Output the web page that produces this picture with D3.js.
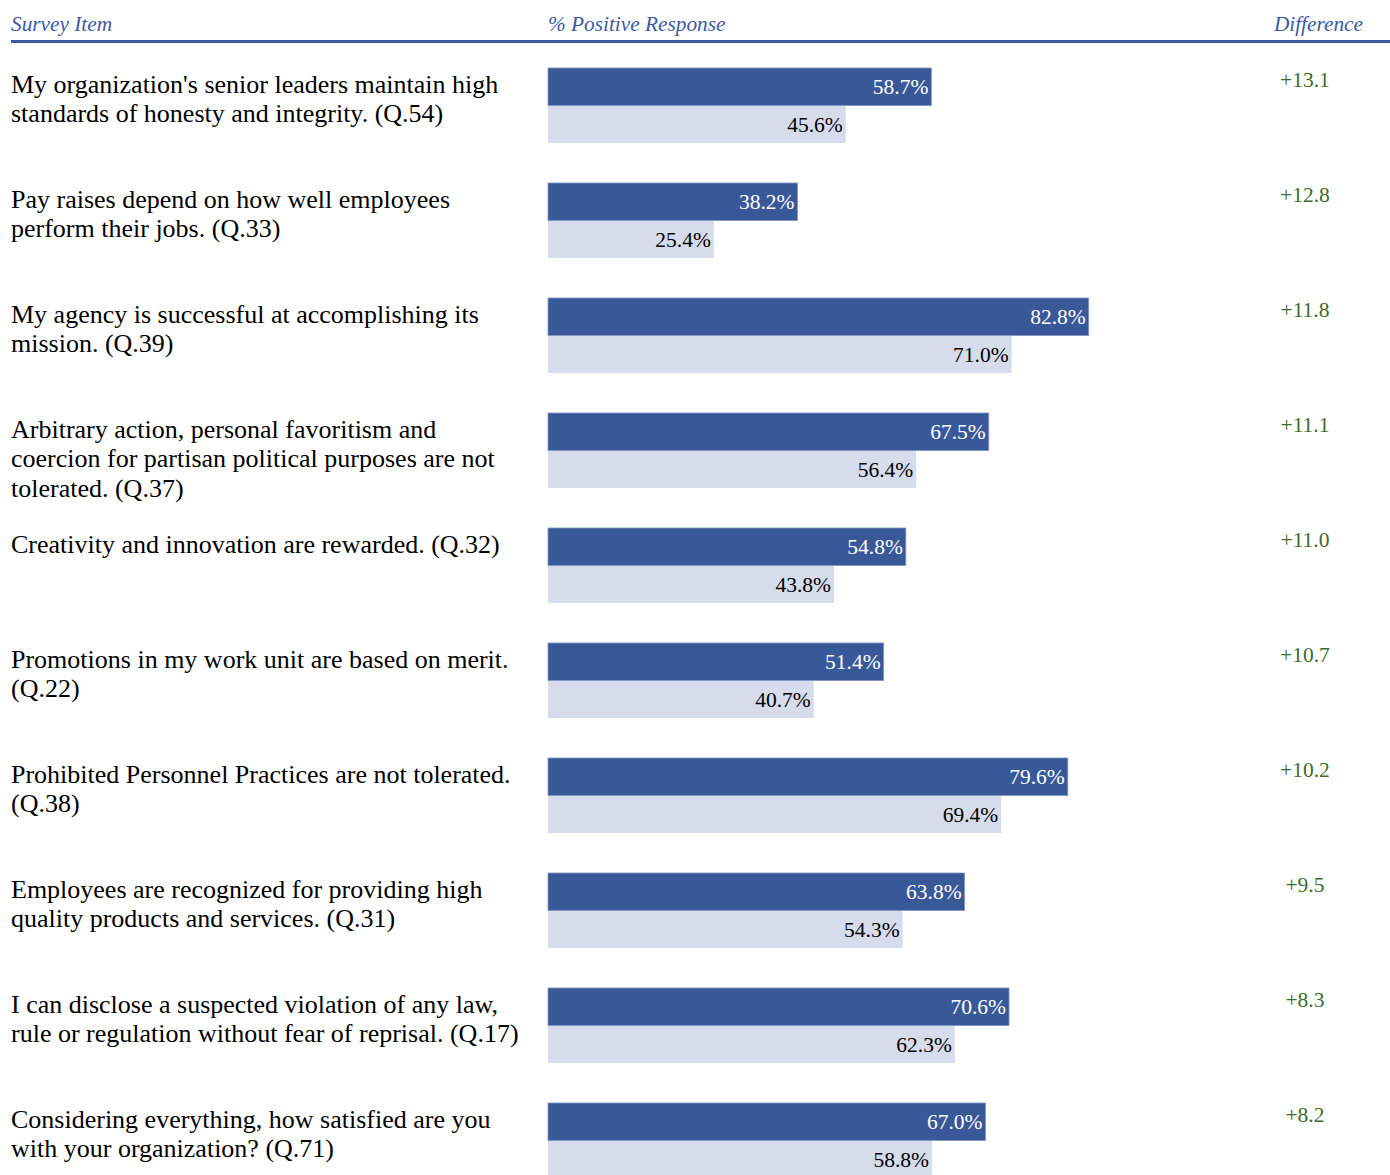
<!DOCTYPE html>
<html>
<head>
<meta charset="utf-8">
<script src="https://cdn.jsdelivr.net/npm/d3@7"></script>
<style>
  body { margin: 0; background: #fff; }
  svg { display: block; }
</style>
</head>
<body>
<svg id="chart"></svg>
<script>
// survey items, line breaks as in the original
var items = [
    ["My organization's senior leaders maintain high", "standards of honesty and integrity. (Q.54)"],
    ["Pay raises depend on how well employees", "perform their jobs. (Q.33)"],
    ["My agency is successful at accomplishing its", "mission. (Q.39)"],
    ["Arbitrary action, personal favoritism and", "coercion for partisan political purposes are not", "tolerated. (Q.37)"],
    ["Creativity and innovation are rewarded. (Q.32)"],
    ["Promotions in my work unit are based on merit.", "(Q.22)"],
    ["Prohibited Personnel Practices are not tolerated.", "(Q.38)"],
    ["Employees are recognized for providing high", "quality products and services. (Q.31)"],
    ["I can disclose a suspected violation of any law,", "rule or regulation without fear of reprisal. (Q.17)"],
    ["Considering everything, how satisfied are you", "with your organization? (Q.71)"]
]
var current = [58.7, 38.2, 82.8, 67.5, 54.8, 51.4, 79.6, 63.8, 70.6, 67.0]
var comparison = [45.6, 25.4, 71.0, 56.4, 43.8, 40.7, 69.4, 54.3, 62.3, 58.8]
var difference = ["+13.1", "+12.8", "+11.8", "+11.1", "+11.0", "+10.7", "+10.2", "+9.5", "+8.3", "+8.2"]

var width = 1390, height = 1175
var serif = "'Liberation Serif', 'Times New Roman', serif"
var headColor = "#3a5ba3"

var svg = d3.select("#chart")
    .attr("width", width)
    .attr("height", height)
    .style("font-family", serif)

var x = d3.scaleLinear()
    .domain([0, 100])
    .range([548, 1201])

var y = d3.scaleBand()
    .domain(d3.range(items.length))
    .range([68, 68 + 115 * items.length])

var barH = 37.5

// header
var head = svg.append("g")
    .style("font-style", "italic")
    .style("font-size", "21.3px")
    .attr("fill", headColor)
head.append("text").attr("x", 11).attr("y", 31).text("Survey Item")
head.append("text").attr("x", 548).attr("y", 31).text("% Positive Response")
head.append("text").attr("x", 1363).attr("y", 31).attr("text-anchor", "end").text("Difference")

svg.append("rect")
    .attr("x", 11).attr("y", 40)
    .attr("width", width - 11).attr("height", 3)
    .attr("fill", headColor)

var rows = svg.selectAll("g.row")
    .data(items)
    .enter()
    .append("g")
        .attr("class", "row")
        .attr("transform", function(d, i){ return "translate(0," + y(i) + ")" })

rows.append("text")
    .attr("x", 11)
    .attr("y", 25)
    .style("font-size", "26px")
    .attr("fill", "#000")
    .selectAll("tspan")
    .data(function(d){ return d })
    .enter()
    .append("tspan")
        .attr("x", 11)
        .attr("dy", function(d, j){ return j == 0 ? 0 : 29.3 })
        .text(function(d){ return d })

// light (comparison) bar
rows.append("rect")
    .attr("x", x(0))
    .attr("y", barH)
    .attr("width", function(d, i){ return x(comparison[i]) - x(0) })
    .attr("height", barH)
    .attr("fill", "#d6dceb")

rows.append("text")
    .attr("x", function(d, i){ return x(comparison[i]) - 3 })
    .attr("y", barH + 26)
    .attr("text-anchor", "end")
    .style("font-size", "21.5px")
    .attr("fill", "#000")
    .text(function(d, i){ return comparison[i].toFixed(1) + "%" })

// dark (current) bar
rows.append("rect")
    .attr("x", x(0))
    .attr("y", 0)
    .attr("width", function(d, i){ return x(current[i]) - x(0) })
    .attr("height", barH)
    .attr("fill", "#395897")
    .attr("stroke", "#7f95c4")
    .attr("stroke-width", 0.8)

rows.append("text")
    .attr("x", function(d, i){ return x(current[i]) - 3 })
    .attr("y", 26)
    .attr("text-anchor", "end")
    .style("font-size", "21.5px")
    .attr("fill", "#fff")
    .text(function(d, i){ return current[i].toFixed(1) + "%" })

rows.append("text")
    .attr("x", 1305)
    .attr("y", 19)
    .attr("text-anchor", "middle")
    .style("font-size", "21.5px")
    .attr("fill", "#3d6b2b")
    .text(function(d, i){ return difference[i] })
</script>
</body>
</html>
